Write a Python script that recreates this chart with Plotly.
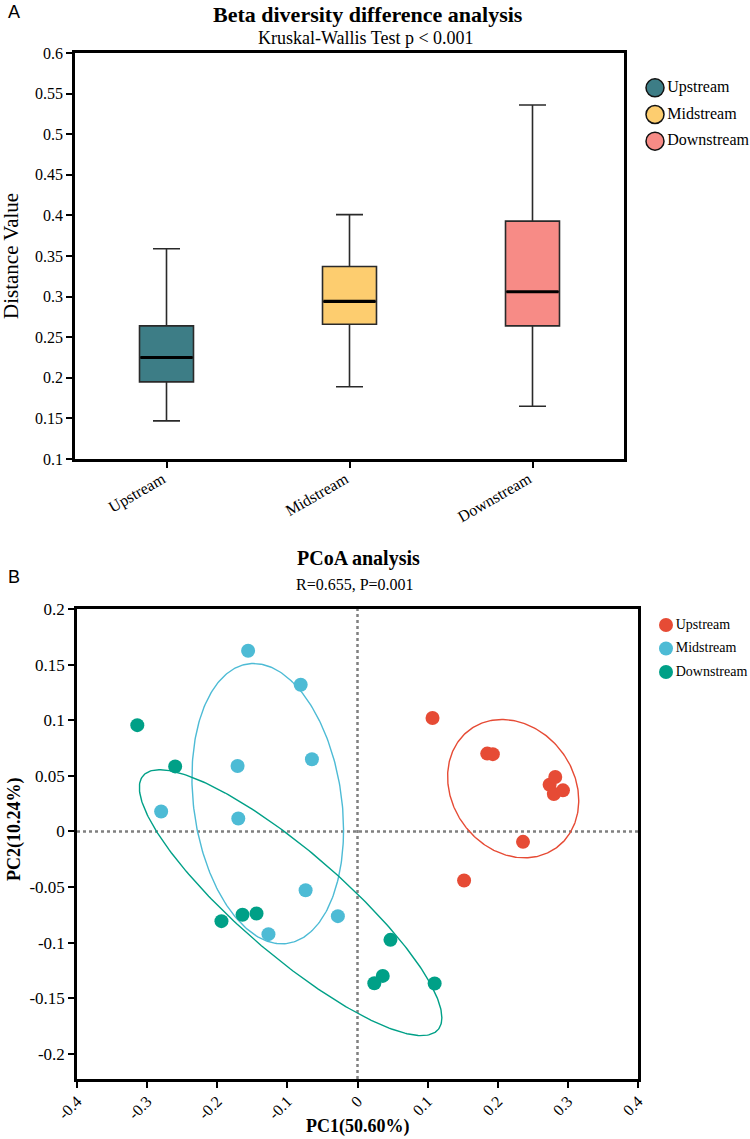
import numpy as np
import plotly.graph_objects as go

# ---------------- data ----------------
categories = ["Upstream", "Midstream", "Downstream"]

box_q1 = [0.195, 0.266, 0.264]
box_median = [0.225, 0.294, 0.306]
box_q3 = [0.264, 0.337, 0.393]
box_lower = [0.147, 0.189, 0.165]
box_upper = [0.359, 0.401, 0.536]

y_ticks_top = [0.1, 0.15, 0.2, 0.25, 0.3, 0.35, 0.4, 0.45, 0.5, 0.55, 0.6]

up_x = [0.107, 0.185, 0.193, 0.274, 0.282, 0.280, 0.293, 0.236, 0.152]
up_y = [0.102, 0.070, 0.0695, 0.042, 0.049, 0.0336, 0.037, -0.0093, -0.0441]
mid_x = [-0.156, -0.081, -0.065, -0.171, -0.170, -0.280, -0.074, -0.028, -0.127]
mid_y = [0.1625, 0.1319, 0.065, 0.0588, 0.0117, 0.018, -0.0528, -0.0761, -0.0923]
down_x = [-0.314, -0.260, -0.194, -0.164, -0.144, 0.047, 0.036, 0.024, 0.110]
down_y = [0.0956, 0.0585, -0.0806, -0.0749, -0.0737, -0.0974, -0.1298, -0.1364, -0.1367]

# confidence ellipses (center, spread in x / y, correlation) per group
ell_cx = [0.222, -0.128, -0.0954]
ell_cy = [0.0385, 0.025, -0.064]
ell_sx = [0.0935, 0.1081, 0.2157]
ell_sy = [0.0622, 0.126, 0.1195]
ell_r = [-0.172, -0.186, -0.866]

pc_x_ticks = [-0.4, -0.3, -0.2, -0.1, 0, 0.1, 0.2, 0.3, 0.4]
pc_x_labels = ["-0.4", "-0.3", "-0.2", "-0.1", "0", "0.1", "0.2", "0.3", "0.4"]
pc_y_ticks = [-0.2, -0.15, -0.1, -0.05, 0, 0.05, 0.1, 0.15, 0.2]
pc_y_labels = ["-0.2", "-0.15", "-0.1", "-0.05", "0", "0.05", "0.1", "0.15", "0.2"]

# ---------------- styles ----------------
box_colors = ["#3D7D86", "#FDCD6F", "#F78B86"]
pc_colors = ["#E64B35", "#4DBBD5", "#00A087"]
SERIF = "Liberation Serif"
BOX_W = 0.295

fig = go.Figure()

# ---- top: box plot ----
for i, cat in enumerate(categories):
    fig.add_trace(go.Box(
        x=[i], q1=[box_q1[i]], median=[box_median[i]], q3=[box_q3[i]],
        lowerfence=[box_lower[i]], upperfence=[box_upper[i]],
        width=BOX_W, whiskerwidth=0.5, fillcolor=box_colors[i],
        line=dict(color="#2a2a2a", width=1.6), name=cat,
        xaxis="x", yaxis="y", showlegend=False, boxpoints=False))
    fig.add_trace(go.Scatter(
        x=[i - BOX_W / 2 + 0.005, i + BOX_W / 2 - 0.005], y=[box_median[i], box_median[i]],
        mode="lines", line=dict(color="black", width=3.2),
        xaxis="x", yaxis="y", showlegend=False, hoverinfo="skip"))

# ---- bottom: ellipses ----
t = np.linspace(0, 2 * np.pi, 300)
for i in range(3):
    cov = np.array([[ell_sx[i] ** 2, ell_r[i] * ell_sx[i] * ell_sy[i]],
                    [ell_r[i] * ell_sx[i] * ell_sy[i], ell_sy[i] ** 2]])
    L = np.linalg.cholesky(cov)
    pts = L @ np.vstack([np.cos(t), np.sin(t)])
    fig.add_trace(go.Scatter(
        x=pts[0] + ell_cx[i], y=pts[1] + ell_cy[i], mode="lines",
        line=dict(color=pc_colors[i], width=1.4),
        xaxis="x2", yaxis="y2", showlegend=False, hoverinfo="skip"))

# ---- bottom: points ----
for i, (xs, ys) in enumerate([(up_x, up_y), (mid_x, mid_y), (down_x, down_y)]):
    fig.add_trace(go.Scatter(
        x=xs, y=ys, mode="markers", name=categories[i],
        marker=dict(color=pc_colors[i], size=14, line=dict(width=0)),
        xaxis="x2", yaxis="y2", showlegend=False))

# ---- custom legends ----
idx = list(range(len(categories)))
fig.add_trace(go.Scatter(
    x=[0] * len(categories), y=idx, mode="markers+text", text=categories,
    textposition="middle right", textfont=dict(family=SERIF, size=16, color="black"),
    marker=dict(color=box_colors, size=18, line=dict(color="#111111", width=1.5)),
    xaxis="x3", yaxis="y3", showlegend=False, hoverinfo="skip", cliponaxis=False))
fig.add_trace(go.Scatter(
    x=[0] * len(categories), y=idx, mode="markers+text", text=categories,
    textposition="middle right", textfont=dict(family=SERIF, size=14, color="black"),
    marker=dict(color=pc_colors, size=14, line=dict(width=0)),
    xaxis="x4", yaxis="y4", showlegend=False, hoverinfo="skip", cliponaxis=False))

H = 1139.0
W = 750.0
axis_common = dict(showline=True, linecolor="black", linewidth=2.5, mirror=True,
                   ticks="outside", ticklen=6, tickwidth=2, tickcolor="black",
                   showgrid=False, zeroline=False, automargin=False)

fig.update_layout(
    width=750, height=1139, margin=dict(l=0, r=0, t=0, b=0, pad=0),
    plot_bgcolor="white", paper_bgcolor="white", showlegend=False,
    font=dict(family=SERIF, color="black"),
    xaxis=dict(domain=[75 / W, 624 / W], range=[-0.5, 2.5], anchor="y",
               tickvals=idx, ticktext=categories, tickangle=-30,
               ticklabelstandoff=-4, ticklabelshift=-4,
               tickfont=dict(family=SERIF, size=16, color="black"), **axis_common),
    yaxis=dict(domain=[1 - 459 / H, 1 - 53 / H], range=[0.1, 0.6], anchor="x",
               tickvals=y_ticks_top, ticktext=[f"{v:g}" for v in y_ticks_top],
               tickfont=dict(family=SERIF, size=16, color="black"), **axis_common),
    xaxis2=dict(domain=[77 / W, 638 / W], range=[-0.4, 0.4], anchor="y2",
                tickvals=pc_x_ticks, ticktext=pc_x_labels, tickangle=-45,
                ticklabelstandoff=-2,
                tickfont=dict(family=SERIF, size=16, color="black"), **axis_common),
    yaxis2=dict(domain=[1 - 1079 / H, 1 - 609 / H], range=[-0.2225, 0.2], anchor="x2",
                tickvals=pc_y_ticks, ticktext=pc_y_labels,
                tickfont=dict(family=SERIF, size=17, color="black"), **axis_common),
    xaxis3=dict(domain=[655 / W, 1.0], range=[0, 1], visible=False, fixedrange=True,
                anchor="y3", automargin=False),
    yaxis3=dict(domain=[1 - 154.5 / H, 1 - 74.5 / H], range=[2.5, -0.5], visible=False,
                fixedrange=True, anchor="x3", automargin=False),
    xaxis4=dict(domain=[666 / W, 1.0], range=[0, 1], visible=False, fixedrange=True,
                anchor="y4", automargin=False),
    yaxis4=dict(domain=[1 - 683.75 / H, 1 - 613.25 / H], range=[2.5, -0.5], visible=False,
                fixedrange=True, anchor="x4", automargin=False),
)

fig.update_layout(shapes=[
    dict(type="line", xref="x2", yref="y2 domain", x0=0, x1=0, y0=0, y1=1,
         line=dict(color="#808080", width=2.5, dash="dot"), layer="below"),
    dict(type="line", xref="x2 domain", yref="y2", x0=0, x1=1, y0=0, y1=0,
         line=dict(color="#808080", width=2.5, dash="dot"), layer="below"),
])


def note(text, x, y, size, family=SERIF, angle=0, xanchor="center"):
    return dict(text=text, x=x / W, y=1 - y / H, xref="paper", yref="paper",
                xanchor=xanchor, yanchor="middle", showarrow=False, textangle=angle,
                font=dict(family=family, size=size, color="black"))


fig.update_layout(annotations=[
    note("A", 6, 12, 18, family="Liberation Sans", xanchor="left"),
    note("<b>Beta diversity difference analysis</b>", 368, 14, 22),
    note("Kruskal-Wallis Test p < 0.001", 366, 38, 18),
    note("Distance Value", 11, 256, 21, angle=-90),
    note("B", 6, 577, 18, family="Liberation Sans", xanchor="left"),
    note("<b>PCoA analysis</b>", 358, 558, 20),
    note("R=0.655, P=0.001", 355, 584, 16),
    note("<b>PC2(10.24%)</b>", 14, 830, 18, angle=-90),
    note("<b>PC1(50.60%)</b>", 357, 1126, 18),
])

fig.write_html("out.html")
